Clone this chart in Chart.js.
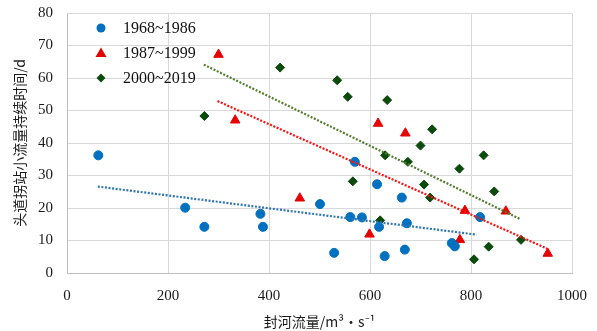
<!DOCTYPE html>
<html>
<head>
<meta charset="utf-8">
<script src="https://cdn.jsdelivr.net/npm/chart.js@4/dist/chart.umd.min.js"></script>
<style>
  html, body { margin: 0; padding: 0; background: #fff; }
  #wrap { width: 597px; height: 331px; }
</style>
</head>
<body>
<div id="wrap"><canvas id="myChart"></canvas></div>
<script>
// series: [flow m3/s, days]
const seriesNames = ['1968~1986', '1987~1999', '2000~2019'];

const flow6886 = [62, 234, 272, 383, 388, 501, 570, 529, 561, 584, 614, 618, 629, 663, 673, 669, 762, 768, 818];
const days6886 = [36.2, 20.1, 14.2, 18.2, 14.2, 21.2, 34.2, 6.2, 17.2, 17.1, 27.3, 14.2, 5.2, 23.2, 15.3, 7.2, 9.2, 8.2, 17.2];

const flow8799 = [300, 333, 461, 616, 670, 599, 778, 788, 869, 952];
const days8799 = [67.2, 47, 23, 46, 43, 11.9, 10.2, 19.2, 19, 6];

const flow0019 = [422, 272, 535, 556, 634, 723, 700, 630, 675, 825, 777, 566, 707, 719, 846, 620, 899, 835, 806];
const days0019 = [63.2, 48.3, 59.3, 54.2, 53.2, 44.2, 39.2, 36.2, 34.2, 36.2, 32.1, 28.2, 27.2, 23.2, 25.1, 16.2, 10.2, 8.1, 4.2];

// trend line ends
const trend6886 = [[61, 26.6], [811, 11.8]];
const trend8799 = [[298, 52.9], [952, 7.4]];
const trend0019 = [[271, 64.1], [896, 16.7]];

const xTicks = [0, 200, 400, 600, 800, 1000];
const yTicks = [0, 10, 20, 30, 40, 50, 60, 70, 80];

const blue = '#0070c0';
const red = '#e60000';
const green = '#0a4a0a';

function toPoints(xs, ys) {
    return xs.map((x, i) => ({ x: x, y: ys[i] }));
}

function trendSet(ends, color) {
    return {
        type: 'line',
        data: ends.map(p => ({ x: p[0], y: p[1] })),
        borderColor: color,
        borderWidth: 2.2,
        borderDash: [2, 1.6],
        pointRadius: 0,
        fill: false
    };
}

// draws the legend in the top-left corner of the plot
const insideLegend = {
    id: 'insideLegend',
    afterDraw(chart) {
        const ctx = chart.ctx;
        const items = [
            { name: seriesNames[0], color: blue, shape: 'circle' },
            { name: seriesNames[1], color: red, shape: 'triangle' },
            { name: seriesNames[2], color: green, shape: 'diamond' }
        ];
        ctx.save();
        ctx.font = '16px "Liberation Serif"';
        ctx.textBaseline = 'middle';
        items.forEach((it, i) => {
            const x = 101, y = 28 + i * 25;
            ctx.fillStyle = it.color;
            ctx.beginPath();
            if (it.shape === 'circle') {
                ctx.arc(x, y, 4.5, 0, Math.PI * 2);
            } else if (it.shape === 'triangle') {
                ctx.moveTo(x, y - 5.5);
                ctx.lineTo(x + 5.5, y + 4);
                ctx.lineTo(x - 5.5, y + 4);
                ctx.closePath();
            } else {
                ctx.moveTo(x, y - 4.5);
                ctx.lineTo(x + 4.5, y);
                ctx.lineTo(x, y + 4.5);
                ctx.lineTo(x - 4.5, y);
                ctx.closePath();
            }
            ctx.fill();
            ctx.fillStyle = '#111';
            ctx.fillText(it.name, 123, y + 1);
        });
        ctx.restore();
    }
};

const tickFont = { family: '"Liberation Serif", "Times New Roman", serif', size: 15 };
const titleFont = { family: '"Noto Sans CJK SC", "Liberation Serif", serif', size: 14 };

new Chart(document.getElementById('myChart').getContext('2d'), {
    type: 'scatter',
    data: {
        datasets: [
            trendSet(trend6886, '#2e75b6'),
            trendSet(trend8799, '#ff1010'),
            trendSet(trend0019, '#4f7f2f'),
            {
                label: seriesNames[0],
                data: toPoints(flow6886, days6886),
                backgroundColor: blue,
                borderColor: blue,
                pointStyle: 'circle',
                pointRadius: 4.5
            },
            {
                label: seriesNames[1],
                data: toPoints(flow8799, days8799),
                backgroundColor: red,
                borderColor: red,
                pointStyle: 'triangle',
                pointRadius: 5.5
            },
            {
                label: seriesNames[2],
                data: toPoints(flow0019, days0019),
                backgroundColor: green,
                borderColor: green,
                pointStyle: 'rectRot',
                pointRadius: 4.5
            }
        ]
    },
    options: {
        responsive: true,
        maintainAspectRatio: false,
        animation: false,
        layout: { padding: { top: 13, right: 25, left: 0, bottom: 0 } },
        plugins: {
            legend: { display: false },
            tooltip: { enabled: false }
        },
        scales: {
            x: {
                type: 'linear',
                min: 0,
                max: 1000,
                afterBuildTicks: axis => { axis.ticks = xTicks.map(v => ({ value: v })); },
                afterFit: axis => {
                    axis.height = 58;
                    axis.paddingLeft = 0;
                    axis.paddingRight = 0;
                },
                grid: { color: '#d9d9d9', drawTicks: false, lineWidth: 1 },
                border: { color: '#bfbfbf' },
                ticks: { font: tickFont, color: '#1a1a1a', padding: 14, callback: v => String(v) },
                title: {
                    display: true,
                    text: '封河流量/m³·s⁻¹',
                    font: titleFont,
                    color: '#1a1a1a',
                    padding: { top: 0, bottom: 1 }
                }
            },
            y: {
                type: 'linear',
                min: 0,
                max: 80,
                afterBuildTicks: axis => { axis.ticks = yTicks.map(v => ({ value: v })); },
                afterFit: axis => {
                    axis.width = 67;
                    axis.paddingTop = 0;
                    axis.paddingBottom = 0;
                },
                grid: { color: '#d9d9d9', drawTicks: false, lineWidth: 1 },
                border: { color: '#bfbfbf' },
                ticks: { font: tickFont, color: '#1a1a1a', padding: 14, callback: v => String(v) },
                title: {
                    display: true,
                    text: '头道拐站小流量持续时间/d',
                    font: titleFont,
                    color: '#1a1a1a',
                    padding: { top: 11, bottom: 0 }
                }
            }
        }
    },
    plugins: [insideLegend]
});
</script>
</body>
</html>
